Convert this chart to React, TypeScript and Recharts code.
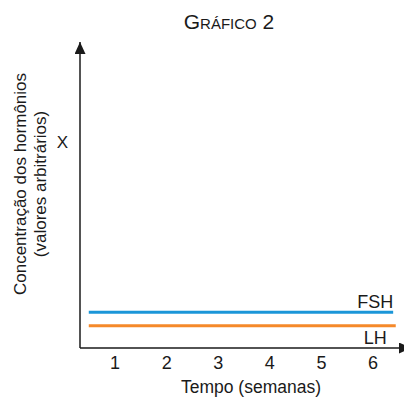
import React from 'react';
import { LineChart, Line, XAxis, YAxis, Label } from 'recharts';

const weekTicks = [1, 2, 3, 4, 5, 6];
const fshWeeks = [0.49, 6.39];
const fshValues = [11.7, 11.7];
const lhWeeks = [0.49, 6.44];
const lhValues = [7.3, 7.3];

const fshData = fshWeeks.map((w, i) => ({ week: w, value: fshValues[i] }));
const lhData = lhWeeks.map((w, i) => ({ week: w, value: lhValues[i] }));

const FONT = '"Liberation Sans", Arial, Helvetica, sans-serif';
const INK = '#1a1a1a';
const BLUE = '#1b96d8';
const ORANGE = '#f5892a';

const YLabel = (props: any) => {
  const vb = props.viewBox || {};
  const ax = vb.x + vb.width;
  const cx1 = ax - 54;
  const cx2 = ax - 34;
  const cy = vb.y + vb.height / 2 - 11;
  return (
    <g>
      <text x={cx1} y={cy} transform={`rotate(-90 ${cx1} ${cy})`} textAnchor="middle" fontSize={17} fill={INK} fontFamily={FONT}>
        Concentração dos hormônios
      </text>
      <text x={cx2} y={cy} transform={`rotate(-90 ${cx2} ${cy})`} textAnchor="middle" fontSize={17} fill={INK} fontFamily={FONT}>
        (valores arbitrários)
      </text>
      <text x={ax - 17.5} y={vb.y + 106} textAnchor="middle" fontSize={17} fill={INK} fontFamily={FONT}>
        X
      </text>
    </g>
  );
};

const XLabel = (props: any) => {
  const vb = props.viewBox || {};
  return (
    <text x={vb.x + vb.width / 2 + 9} y={vb.y + 45} textAnchor="middle" fontSize={17.5} fill={INK} fontFamily={FONT}>
      Tempo (semanas)
    </text>
  );
};

const fshLabel = (p: any) =>
  p.index === fshData.length - 1 ? (
    <text x={p.x} y={p.y - 4.5} textAnchor="end" fontSize={18} fill={INK} fontFamily={FONT}>
      FSH
    </text>
  ) : null;

const lhLabel = (p: any) =>
  p.index === lhData.length - 1 ? (
    <text x={p.x - 9} y={p.y + 18.5} textAnchor="end" fontSize={18} fill={INK} fontFamily={FONT}>
      LH
    </text>
  ) : null;

export default function App() {
  return (
    <div style={{ position: 'absolute', left: 0, top: 0, width: 404, height: 401, background: '#fff', fontFamily: FONT }}>
      <svg width={0} height={0} style={{ position: 'absolute' }}>
        <defs>
          <marker id="arrowY" viewBox="0 0 12 11" refX={12} refY={5.5} markerWidth={12} markerHeight={11} markerUnits="userSpaceOnUse" orient="auto-start-reverse">
            <path d="M0,0 L12,5.5 L0,11 z" fill={INK} />
          </marker>
          <marker id="arrowX" viewBox="0 0 12 11" refX={5} refY={5.5} markerWidth={12} markerHeight={11} markerUnits="userSpaceOnUse" orient="auto-start-reverse">
            <path d="M0,0 L12,5.5 L0,11 z" fill={INK} />
          </marker>
        </defs>
      </svg>
      <div
        style={{
          position: 'absolute',
          top: 11,
          left: 229,
          transform: 'translateX(-50%)',
          fontSize: 21,
          lineHeight: '21px',
          fontVariant: 'small-caps',
          color: INK,
          whiteSpace: 'nowrap',
        }}
      >
        Gráfico 2
      </div>
      <LineChart width={404} height={401} margin={{ top: 42, right: 0, left: 79, bottom: 0 }}>
        <XAxis
          type="number"
          dataKey="week"
          domain={[0.32, 6.6]}
          ticks={weekTicks}
          allowDataOverflow
          height={53}
          tickLine={false}
          tickSize={0}
          tickMargin={8}
          tick={{ fontSize: 18, fill: INK, fontFamily: FONT }}
          axisLine={{ stroke: INK, strokeWidth: 1.5, markerEnd: 'url(#arrowX)' }}
        >
          <Label content={XLabel} />
        </XAxis>
        <YAxis
          type="number"
          dataKey="value"
          domain={[0, 100]}
          width={1}
          tick={false}
          tickLine={false}
          axisLine={{ stroke: INK, strokeWidth: 1.5, markerStart: 'url(#arrowY)' }}
        >
          <Label content={YLabel} />
        </YAxis>
        <Line data={fshData} dataKey="value" stroke={BLUE} strokeWidth={3} dot={false} isAnimationActive={false} label={fshLabel} />
        <Line data={lhData} dataKey="value" stroke={ORANGE} strokeWidth={3} dot={false} isAnimationActive={false} label={lhLabel} />
      </LineChart>
    </div>
  );
}
